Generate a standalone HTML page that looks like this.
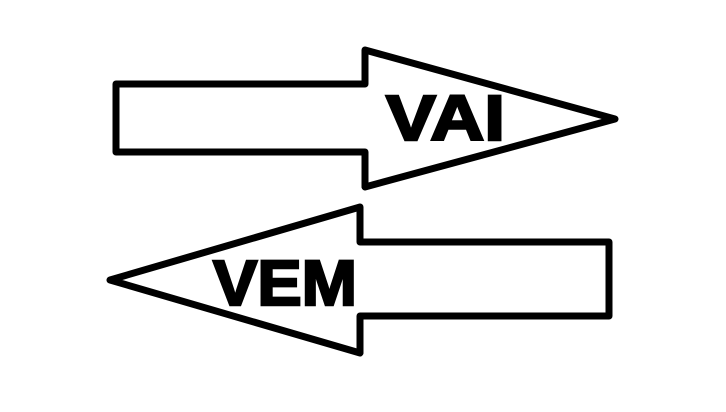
<!DOCTYPE html>
<html><head><meta charset="utf-8"><style>html,body{margin:0;padding:0;background:#fff;}svg{display:block}</style></head>
<body>
<svg width="726" height="412" viewBox="0 0 726 412" xmlns="http://www.w3.org/2000/svg">
<rect width="726" height="412" fill="#fff"/>
<polygon points="116,84 365,84 365,50 615,119 365,187 365,152 116,152" fill="#fff" stroke="#000" stroke-width="7" stroke-linejoin="round"/>
<polygon points="609,242 360,242 360,207 110,280 360,353 360,316 609,316" fill="#fff" stroke="#000" stroke-width="7" stroke-linejoin="round"/>
<text x="386" y="140" font-family="Liberation Sans, sans-serif" font-weight="bold" font-size="64" stroke="#000" stroke-width="2.5" textLength="119" lengthAdjust="spacingAndGlyphs">VAI</text>
<text x="213" y="305" font-family="Liberation Sans, sans-serif" font-weight="bold" font-size="64" stroke="#000" stroke-width="2.5" textLength="144" lengthAdjust="spacingAndGlyphs">VEM</text>
</svg>
</body></html>
